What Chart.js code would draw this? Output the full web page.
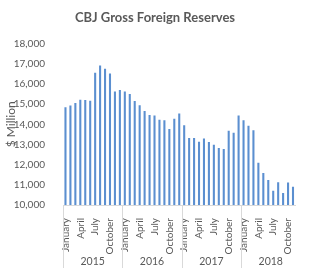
<!DOCTYPE html>
<html>
<head>
<meta charset="utf-8">
<script src="https://cdn.jsdelivr.net/npm/chart.js@4/dist/chart.umd.min.js"></script>
<style>
  html, body { margin: 0; padding: 0; background: #fff; }
  #wrap { width: 310px; height: 268px; }
</style>
</head>
<body>
<div id="wrap"><canvas id="reserves-chart"></canvas></div>
<script>
// monthly reserves, Jan 2015 - Nov 2018 ($ million)
const monthNames = ['January', 'February', 'March', 'April', 'May', 'June',
    'July', 'August', 'September', 'October', 'November', 'December'];
const years = ['2015', '2016', '2017', '2018'];
const reserves = [
    14840, 14930, 15060, 15220, 15200, 15170, 16550, 16920, 16750, 16520, 15620, 15700,
    15620, 15500, 15160, 14940, 14660, 14460, 14430, 14230, 14200, 13770, 14280, 14530,
    13950, 13320, 13320, 13130, 13300, 13120, 12990, 12820, 12770, 13680, 13580, 14430,
    14200, 13930, 13700, 12100, 11590, 11240, 10710, 11130, 10600, 11110, 10900
];

const labels = [];
for (let i = 0; i < reserves.length; i++) {
    labels.push(monthNames[i % 12]);
}

const textColor = '#595959';
const lineColor = '#d9d9d9';
const fontFamily = 'Lato, "Open Sans", sans-serif';

// year row under the month labels, with separators between years
const yearAxis = {
    id: 'yearAxis',
    afterDraw(chart) {
        const ctx = chart.ctx;
        const x = chart.scales.x;
        const area = chart.chartArea;
        const step = x.getPixelForValue(1) - x.getPixelForValue(0);
        ctx.save();
        ctx.strokeStyle = lineColor;
        ctx.lineWidth = 1;
        ctx.fillStyle = textColor;
        ctx.font = '10.5px ' + fontFamily;
        ctx.textAlign = 'center';
        ctx.textBaseline = 'middle';
        for (let i = 0; i < years.length; i++) {
            const left = x.getPixelForValue(i * 12) - step / 2;
            const right = left + step * 12;
            const sx = Math.round(left) + 0.5;
            ctx.beginPath();
            ctx.moveTo(sx, area.bottom);
            ctx.lineTo(sx, 268);
            ctx.stroke();
            ctx.fillText(years[i], (left + Math.min(right, chart.width + step)) / 2, 262);
        }
        ctx.restore();
    }
};

const ctx = document.getElementById('reserves-chart');
const graph = new Chart(ctx, {
    type: 'bar',
    data: {
        labels: labels,
        datasets: [
            {
                label: 'Reserves',
                data: reserves,
                backgroundColor: '#5b8fd0',
                barPercentage: 0.42,
                categoryPercentage: 1.0,
            }
        ]
    },
    options: {
        responsive: true,
        maintainAspectRatio: false,
        animation: false,
        layout: {
            padding: { top: 0, right: 0, bottom: 0, left: 0 }
        },
        plugins: {
            legend: { display: false },
            tooltip: { enabled: false },
            title: {
                display: true,
                text: 'CBJ Gross Foreign Reserves',
                color: textColor,
                font: { family: fontFamily, size: 13, weight: 'bold' },
                padding: { top: 10, bottom: 18 }
            }
        },
        scales: {
            x: {
                grid: { display: false },
                border: { color: lineColor },
                ticks: {
                    autoSkip: false,
                    minRotation: 90,
                    maxRotation: 90,
                    padding: 5,
                    color: textColor,
                    font: { family: fontFamily, size: 10 },
                    callback: function (value, index) {
                        return index % 3 === 0 ? this.getLabelForValue(value) : '';
                    }
                },
                afterFit: function (scale) {
                    scale.height = 63;
                }
            },
            y: {
                min: 10000,
                max: 18000,
                grid: { display: false },
                border: { display: false },
                ticks: {
                    stepSize: 1000,
                    padding: 10,
                    color: textColor,
                    font: { family: fontFamily, size: 10 },
                    callback: function (value) {
                        return value.toLocaleString('en-US');
                    }
                },
                title: {
                    display: true,
                    text: '$ Million',
                    color: textColor,
                    font: { family: fontFamily, size: 12 },
                    padding: { top: 4, bottom: 0 }
                },
                afterFit: function (scale) {
                    scale.width = 63;
                }
            }
        }
    },
    plugins: [yearAxis]
});
</script>
</body>
</html>
